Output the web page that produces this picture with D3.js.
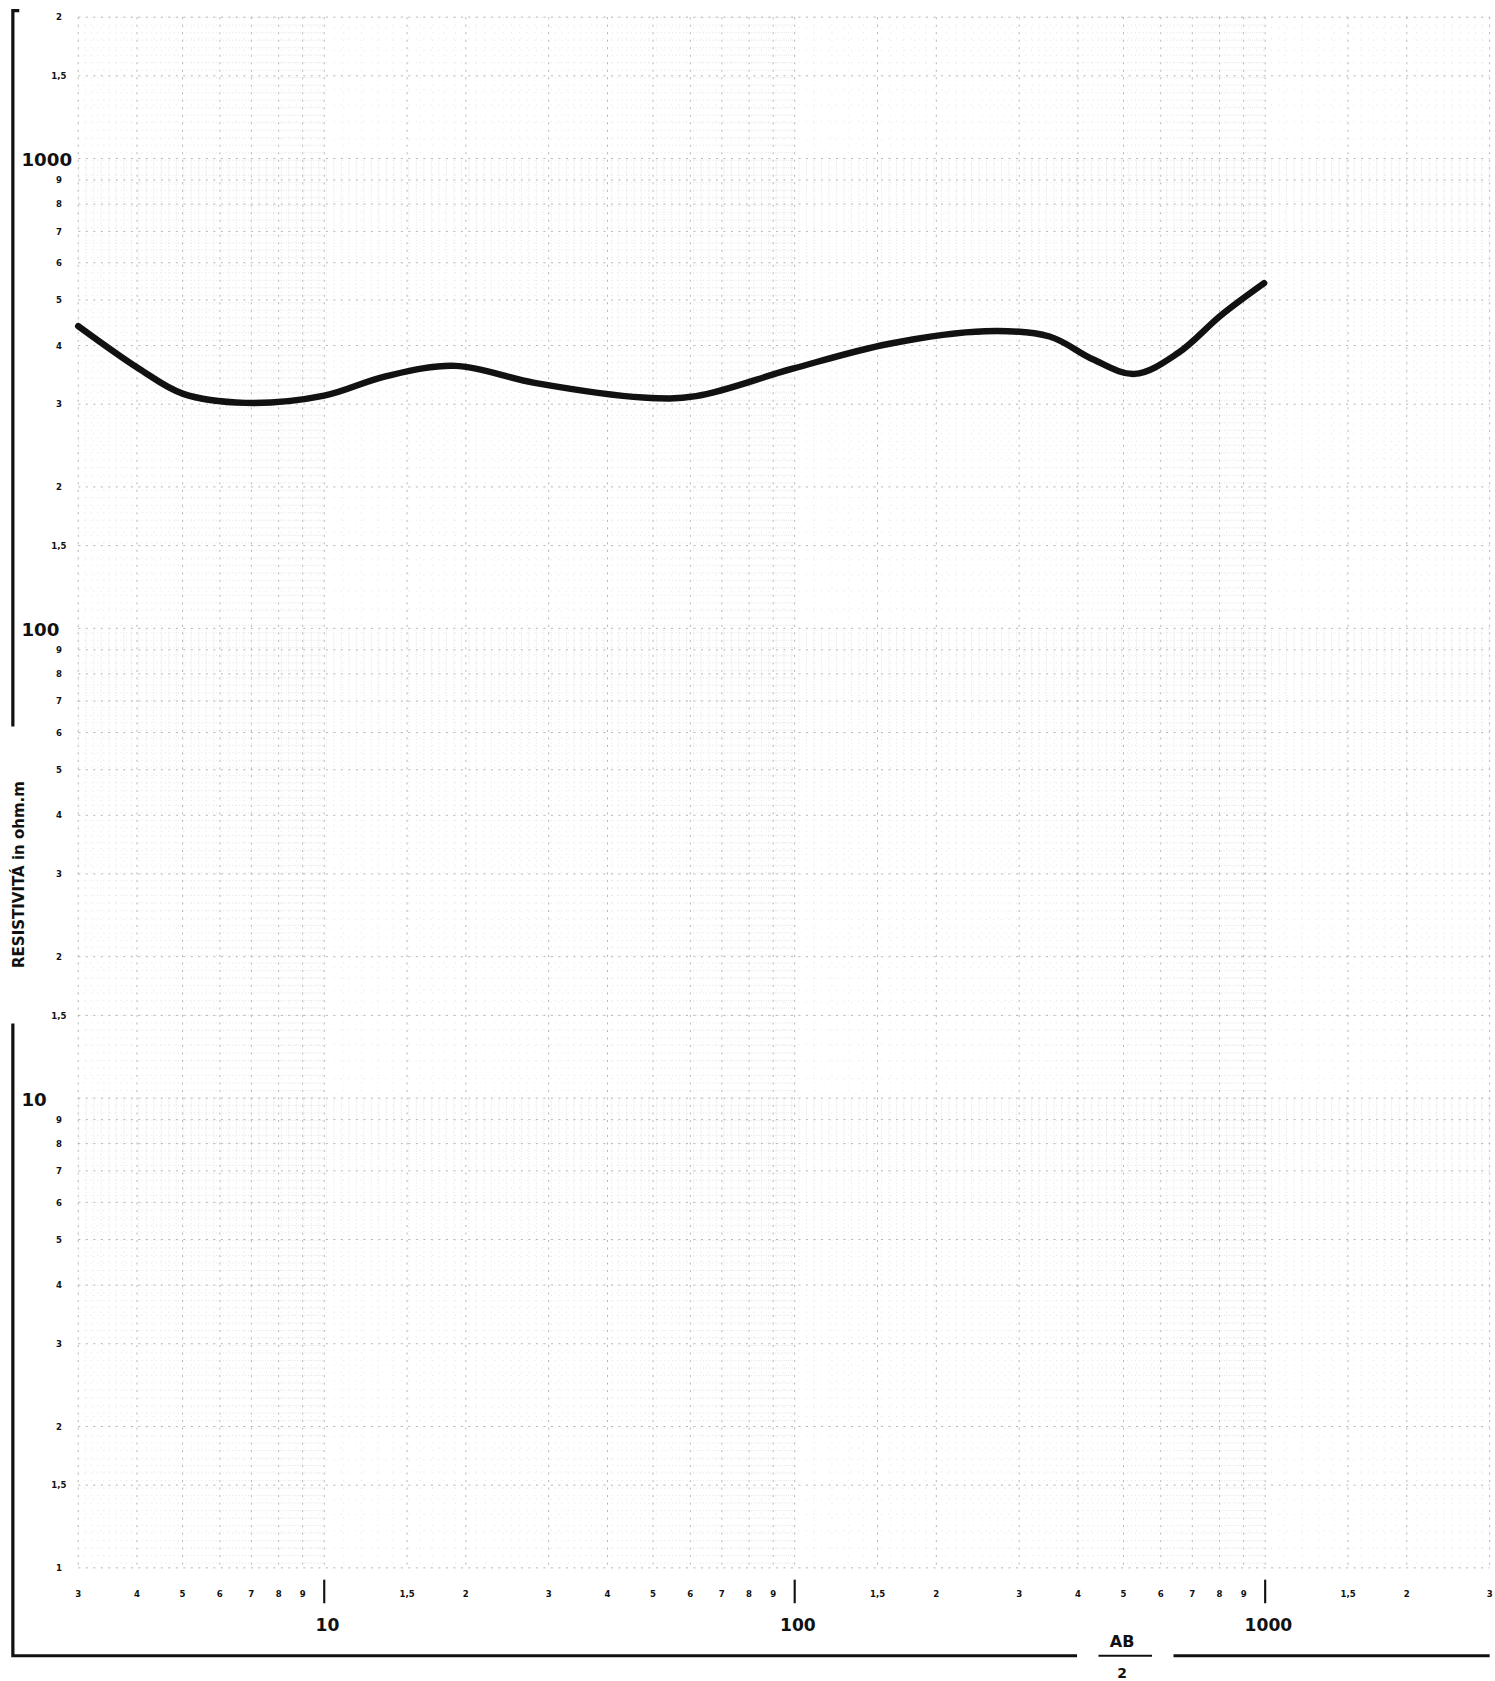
<!DOCTYPE html>
<html><head><meta charset="utf-8">
<script src="https://cdn.jsdelivr.net/npm/d3@7"></script>
<style>body{margin:0;background:#fff}text{font-family:"DejaVu Sans",sans-serif;fill:#111}</style>
</head><body><svg id="c" width="1495" height="1681"></svg>
<script>
// measured curve: AB/2 (m) vs apparent resistivity (ohm.m)
var abHalf = [3, 4.04, 5.0, 6.8, 10, 13.5, 19, 28, 47.6, 61.7, 99, 158, 254, 348, 430, 528, 654, 806, 995]
var resist = [440, 357, 316, 302, 313, 344, 362, 333, 310, 312, 357, 403, 429, 418, 374, 348, 386, 464, 543]
var mantissa = [2, 3, 4, 5, 6, 7, 8, 9]
var decadesY = [1, 10, 100, 1000]
var decadesX = [10, 100, 1000]

var k = 1495 / 1395
var svg = d3.select('#c')
var g = svg.append('g').attr('transform', 'scale(' + k + ')')
var x = d3.scaleLog().domain([3, 3000]).range([73, 1390])
var y = d3.scaleLog().domain([1, 2000]).range([1463, 16])

// grid
var xs = [], ys = []
;[1, 10, 100, 1000].forEach(function (d) {
  for (var i = 10; i < 100; i += 1) { xs.push(d * i / 10); ys.push(d * i / 10) }
})
xs = xs.filter(function (v) { return v >= 3 && v <= 3000 })
ys = ys.filter(function (v) { return v >= 1 && v <= 2000 })
function major(v) { var m = v / Math.pow(10, Math.floor(Math.log10(v) + 1e-9)); return Math.abs(m - Math.round(m)) < 1e-6 || Math.abs(m - 1.5) < 1e-6 }
g.selectAll('.gx').data(xs).enter().append('line')
  .attr('x1', x).attr('x2', x).attr('y1', y(2000)).attr('y2', y(1))
  .attr('stroke', function (d) { return major(d) ? '#aaa' : '#e2e2e2' })
  .attr('stroke-width', 0.8).attr('stroke-dasharray', function (d) { return major(d) ? '2,5' : '1,6' })
g.selectAll('.gy').data(ys).enter().append('line')
  .attr('y1', y).attr('y2', y).attr('x1', x(3)).attr('x2', x(3000))
  .attr('stroke', function (d) { return major(d) ? '#aaa' : '#e2e2e2' })
  .attr('stroke-width', 0.8).attr('stroke-dasharray', function (d) { return major(d) ? '2,5' : '1,6' })

// y labels
var yl = []
decadesY.forEach(function (d) {
  if (d > 1) yl.push({ v: d, t: String(d), big: true })
  else yl.push({ v: d, t: '1' })
  if (d * 1.5 <= 2000) yl.push({ v: d * 1.5, t: '1,5' })
  mantissa.forEach(function (m) { if (d * m <= 2000) yl.push({ v: d * m, t: String(m) }) })
})
g.selectAll('.yl').data(yl).enter().append('text')
  .attr('x', function (d) { return d.big ? 20 : 55 }).attr('y', function (d) { return y(d.v) + (d.big ? 7 : 3) })
  .attr('text-anchor', function (d) { return d.big ? 'start' : 'middle' })
  .attr('font-size', function (d) { return d.big ? 17 : 8 }).attr('font-weight', 'bold')
  .text(function (d) { return d.t })

// x labels
var xl = []
;[1, 10, 100, 1000].forEach(function (d) {
  if (d * 1.5 >= 3 && d * 1.5 <= 3000) xl.push({ v: d * 1.5, t: '1,5' })
  mantissa.forEach(function (m) { if (d * m >= 3 && d * m <= 3000) xl.push({ v: d * m, t: String(m) }) })
})
g.selectAll('.xl').data(xl).enter().append('text')
  .attr('x', function (d) { return x(d.v) }).attr('y', 1490).attr('text-anchor', 'middle')
  .attr('font-size', 8).attr('font-weight', 'bold').text(function (d) { return d.t })
g.selectAll('.xt').data(decadesX).enter().append('line')
  .attr('x1', x).attr('x2', x).attr('y1', 1474).attr('y2', 1496).attr('stroke', '#111').attr('stroke-width', 2)
g.selectAll('.xd').data(decadesX).enter().append('text')
  .attr('x', function (d) { return x(d) + 3 }).attr('y', 1522).attr('text-anchor', 'middle')
  .attr('font-size', 16).attr('font-weight', 'bold').text(function (d) { return d })

// frame lines
g.append('path').attr('d', 'M18,10 H12 V678').attr('fill', 'none').attr('stroke', '#111').attr('stroke-width', 3)
g.append('path').attr('d', 'M12,955 V1545 H1005').attr('fill', 'none').attr('stroke', '#111').attr('stroke-width', 3)
g.append('path').attr('d', 'M1095,1545 H1390').attr('fill', 'none').attr('stroke', '#111').attr('stroke-width', 3)
g.append('text').attr('transform', 'translate(22,816) rotate(-90)').attr('text-anchor', 'middle')
  .attr('font-size', 14).attr('font-weight', 'bold').text('RESISTIVITA\u0301  in ohm.m')
g.append('text').attr('x', 1047).attr('y', 1537).attr('text-anchor', 'middle').attr('font-size', 15).attr('font-weight', 'bold').text('AB')
g.append('line').attr('x1', 1025).attr('x2', 1075).attr('y1', 1545).attr('y2', 1545).attr('stroke', '#111').attr('stroke-width', 2)
g.append('text').attr('x', 1047).attr('y', 1566).attr('text-anchor', 'middle').attr('font-size', 13).attr('font-weight', 'bold').text('2')

// curve
var pts = abHalf.map(function (a, i) { return [a, resist[i]] })
g.append('path').datum(pts)
  .attr('d', d3.line().x(function (d) { return x(d[0]) }).y(function (d) { return y(d[1]) }).curve(d3.curveCatmullRom))
  .attr('fill', 'none').attr('stroke', '#111').attr('stroke-width', 6).attr('stroke-linecap', 'round')
</script></body></html>
